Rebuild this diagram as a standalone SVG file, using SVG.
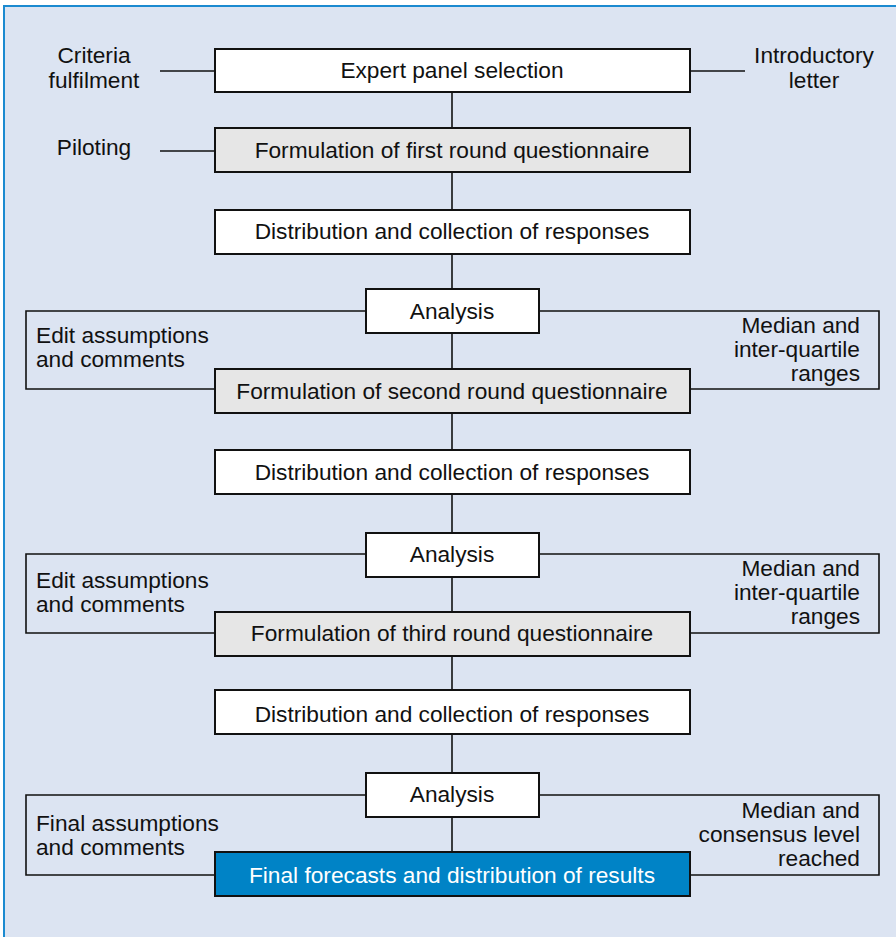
<svg xmlns="http://www.w3.org/2000/svg" width="896" height="937" viewBox="0 0 896 937">
<style>
text{font-family:"Liberation Sans",Arial,sans-serif;font-size:22.7px;fill:#111}
.c{text-anchor:middle}
.e{text-anchor:end}
.box{stroke:#111;stroke-width:2}
.w{fill:#fff}
.g{fill:#e6e6e6}
.b{fill:#0083c6}
.ln{fill:none;stroke:#111;stroke-width:1.6}
.wt{fill:#fff}
</style>
<rect x="0" y="0" width="896" height="937" fill="#fff"/>
<rect x="4" y="6" width="900" height="940" fill="#dce4f2" stroke="#1b8ad0" stroke-width="2"/>
<g id="connectors">
<line class="ln" x1="452" y1="92" x2="452" y2="852"/>
<line class="ln" x1="160" y1="71" x2="215" y2="71"/>
<line class="ln" x1="690" y1="71" x2="745" y2="71"/>
<line class="ln" x1="160" y1="151" x2="215" y2="151"/>
<polyline class="ln" points="366,311 26,311 26,389 215,389"/>
<polyline class="ln" points="539,311 879,311 879,389 690,389"/>
<polyline class="ln" points="366,554 26,554 26,633 215,633"/>
<polyline class="ln" points="539,554 879,554 879,633 690,633"/>
<polyline class="ln" points="366,795 26,795 26,875 215,875"/>
<polyline class="ln" points="539,795 879,795 879,875 690,875"/>
</g>
<g id="criteria"><text class="c" x="94" y="63">Criteria</text><text class="c" x="94" y="88">fulfilment</text></g>
<g id="introductory"><text class="c" x="814" y="63">Introductory</text><text class="c" x="814" y="88">letter</text></g>
<g id="piloting"><text class="c" x="94" y="155">Piloting</text></g>
<g id="expert"><rect class="box w" x="215" y="49" width="475" height="43"/><text class="c" x="452" y="78">Expert panel selection</text></g>
<g id="form1"><rect class="box g" x="215" y="128" width="475" height="44"/><text class="c" x="452" y="158">Formulation of first round questionnaire</text></g>
<g id="dist1"><rect class="box w" x="215" y="210" width="475" height="44"/><text class="c" x="452" y="239">Distribution and collection of responses</text></g>
<g id="analysis1"><rect class="box w" x="366" y="289" width="173" height="44"/><text class="c" x="452" y="319">Analysis</text></g>
<g id="edit1"><text x="36" y="343">Edit assumptions</text><text x="36" y="367">and comments</text></g>
<g id="median1"><text class="e" x="860" y="333">Median and</text><text class="e" x="860" y="357">inter-quartile</text><text class="e" x="860" y="381">ranges</text></g>
<g id="form2"><rect class="box g" x="215" y="369" width="475" height="44"/><text class="c" x="452" y="399">Formulation of second round questionnaire</text></g>
<g id="dist2"><rect class="box w" x="215" y="450" width="475" height="44"/><text class="c" x="452" y="480">Distribution and collection of responses</text></g>
<g id="analysis2"><rect class="box w" x="366" y="533" width="173" height="44"/><text class="c" x="452" y="562">Analysis</text></g>
<g id="edit2"><text x="36" y="588">Edit assumptions</text><text x="36" y="612">and comments</text></g>
<g id="median2"><text class="e" x="860" y="576">Median and</text><text class="e" x="860" y="600">inter-quartile</text><text class="e" x="860" y="624">ranges</text></g>
<g id="form3"><rect class="box g" x="215" y="612" width="475" height="44"/><text class="c" x="452" y="641">Formulation of third round questionnaire</text></g>
<g id="dist3"><rect class="box w" x="215" y="690" width="475" height="44"/><text class="c" x="452" y="722">Distribution and collection of responses</text></g>
<g id="analysis3"><rect class="box w" x="366" y="773" width="173" height="44"/><text class="c" x="452" y="802">Analysis</text></g>
<g id="final-assumptions"><text x="36" y="831">Final assumptions</text><text x="36" y="855">and comments</text></g>
<g id="median3"><text class="e" x="860" y="818">Median and</text><text class="e" x="860" y="842">consensus level</text><text class="e" x="860" y="866">reached</text></g>
<g id="final"><rect class="box b" x="215" y="852" width="475" height="44"/><text class="c wt" x="452" y="883">Final forecasts and distribution of results</text></g>
</svg>
